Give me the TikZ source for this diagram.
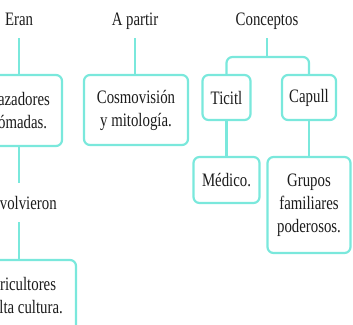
\documentclass[tikz,border=0pt]{standalone}
\usepackage{fontspec}
\setmainfont{Liberation Serif}[FakeStretch=0.78]
\usepackage{tikz}
\definecolor{mapline}{RGB}{122,232,220}
\definecolor{maptext}{RGB}{28,28,28}

\begin{document}
\begin{tikzpicture}[x=1pt, y=-1pt,
  box/.style={draw=mapline, line width=2.2pt, rounded corners=6pt, fill=white,
    align=center, inner xsep=6pt, inner ysep=10pt, minimum height=45pt,
    text=maptext, font=\fontsize{19}{23}\selectfont},
  head/.style={anchor=base, text height=17pt, text depth=4pt, inner ysep=9pt,
    text=maptext, font=\fontsize{19}{23}\selectfont},
  conn/.style={mapline, line width=2.2pt}]
\clip (0,0) rectangle (353,324);
%
\node[head] (eran) at (19,25) {Eran};
\node[head] (apartir) at (135,25) {A partir};
\node[head] (conceptos) at (267,25) {Conceptos};
%
\node[box, minimum width=86pt, minimum height=71pt] (cazadores) at (19,110.5) {Cazadores\\nómadas.};
\node[head] (volvieron) at (19,209) {Se volvieron};
\node[box, minimum width=114pt, minimum height=71pt] (agricultores) at (19,295.5) {Agricultores\\de alta cultura.};
%
\node[box, minimum width=104pt, minimum height=70pt] (cosmovision) at (136,110) {Cosmovisión\\y mitología.};
%
\node[box, minimum width=48pt] (ticitl) at (226.5,97.5) {Ticitl};
\node[box, minimum width=54pt] (capull) at (309,97.5) {Capull};
\node[box, minimum width=66pt, minimum height=46pt] (medico) at (226.5,180) {Médico.};
\node[box, minimum width=83pt, minimum height=96pt] (grupos) at (309,205) {Grupos\\familiares\\poderosos.};
\coordinate (branch) at (267,57);
%
\draw[conn] (eran) -- (cazadores);
\draw[conn] (cazadores) -- (volvieron);
\draw[conn] (volvieron) -- (agricultores);
\draw[conn] (apartir.south) -- (apartir.south |- cosmovision.north);
\draw[conn] (conceptos) -- (branch);
\draw[conn, rounded corners=6pt] (ticitl.north) |- (branch) -| (capull.north);
\draw[conn] (ticitl) -- (medico);
\draw[conn] (capull) -- (grupos);
\end{tikzpicture}
\end{document}
